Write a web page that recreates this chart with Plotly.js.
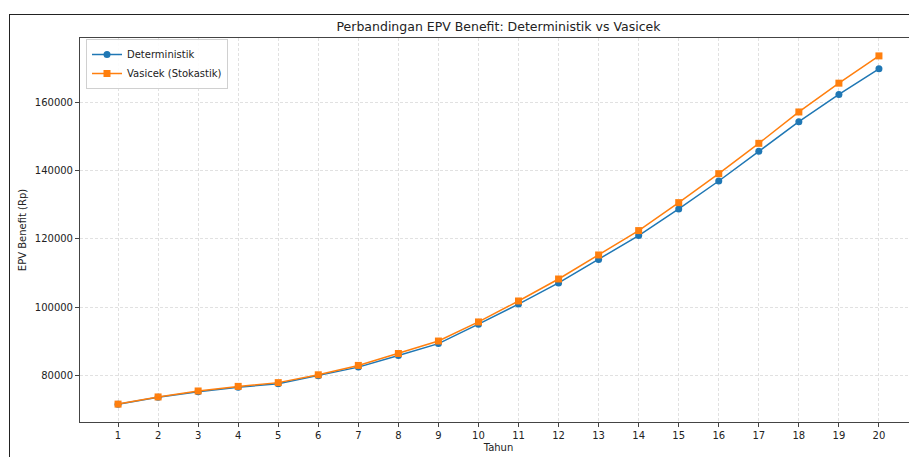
<!DOCTYPE html>
<html>
<head>
<meta charset="utf-8">
<script src="https://cdn.plot.ly/plotly-3.0.1.min.js"></script>
<style>
  html, body { margin: 0; padding: 0; background: #fff; overflow: hidden; width: 909px; height: 457px; }
  #chart { position: absolute; left: 0; top: 0; }
  #frame { position: absolute; left: 9px; top: 14px; width: 1000px; height: 600px; border-left: 1.5px solid #222; border-top: 1.5px solid #222; pointer-events: none; }
</style>
</head>
<body>
<div id="chart"></div>
<div id="frame"></div>
<script>
const years = [1,2,3,4,5,6,7,8,9,10,11,12,13,14,15,16,17,18,19,20];
const deterministik = [71500,73550,75200,76500,77550,79900,82400,85800,89300,95000,100900,107100,114000,121000,128800,137000,145700,154400,162400,169900];
const vasicek = [71550,73650,75400,76750,77850,80150,82900,86400,90050,95650,101800,108250,115300,122450,130650,139150,148050,157250,165700,173700];
const yTicks = [80000,100000,120000,140000,160000];
const xTickLabels = years.map(String);

const font = "DejaVu Sans, Liberation Sans, sans-serif";

const traces = [
  {
    x: years, y: deterministik, name: "Deterministik", type: "scatter", mode: "lines+markers",
    line: {color: "#1f77b4", width: 1.5},
    marker: {symbol: "circle", size: 7, color: "#1f77b4"}
  },
  {
    x: years, y: vasicek, name: "Vasicek (Stokastik)", type: "scatter", mode: "lines+markers",
    line: {color: "#ff7f0e", width: 1.5},
    marker: {symbol: "square", size: 7, color: "#ff7f0e"}
  }
];

const axisCommon = {
  showline: true, mirror: true, linecolor: "#444", linewidth: 1,
  ticks: "outside", ticklen: 4, tickcolor: "#444", tickwidth: 1,
  showgrid: true, gridcolor: "#d9d9d9", griddash: "3px,2px", gridwidth: 0.8,
  zeroline: false,
  tickfont: {family: font, size: 10, color: "#222"}
};

const layout = {
  width: 930, height: 457,
  margin: {l: 80, r: 13, t: 38, b: 35},
  paper_bgcolor: "rgba(0,0,0,0)", plot_bgcolor: "#fff",
  font: {family: font, color: "#222"},
  title: {text: "Perbandingan EPV Benefit: Deterministik vs Vasicek", font: {family: font, size: 12.5, color: "#222"},
          x: 0.5 * (80 + 917) / 930, xanchor: "center", y: 1 - 27/457, yanchor: "middle"},
  xaxis: Object.assign({}, axisCommon, {
    range: [0.05, 20.95], tickmode: "array", tickvals: years, ticktext: xTickLabels,
    title: {text: "Tahun", font: {family: font, size: 10, color: "#222"}, standoff: 3}
  }),
  yaxis: Object.assign({}, axisCommon, {
    range: [66300, 178950], tickmode: "array", tickvals: yTicks, ticktext: yTicks.map(String),
    title: {text: "EPV Benefit (Rp)", font: {family: font, size: 10, color: "#222"}, standoff: 6}
  }),
  showlegend: true,
  legend: {
    x: 6/837, y: 1 - 1/384, xanchor: "left", yanchor: "top",
    bgcolor: "rgba(255,255,255,0.9)", bordercolor: "#d0d0d0", borderwidth: 1,
    font: {family: font, size: 10, color: "#222"}, itemwidth: 30, tracegroupgap: 0
  }
};

Plotly.newPlot("chart", traces, layout, {displayModeBar: false, staticPlot: true});
</script>
</body>
</html>
